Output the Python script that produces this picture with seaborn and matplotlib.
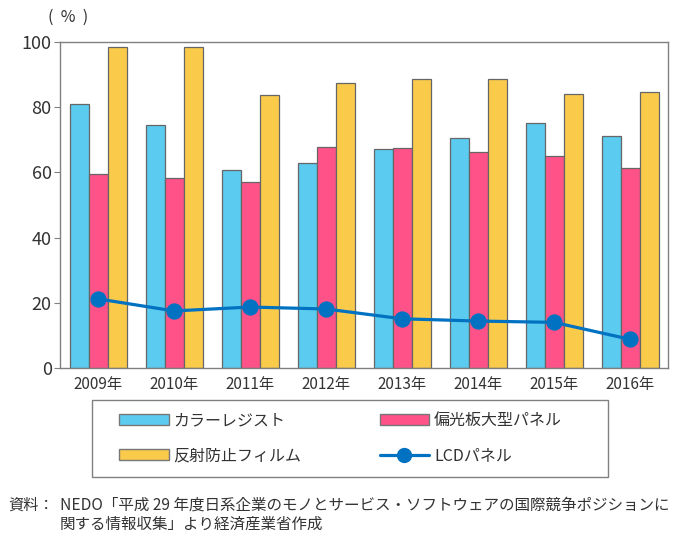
import pandas as pd
from matplotlib import pyplot as plt
from matplotlib.patches import Patch, Rectangle
from matplotlib.lines import Line2D
import seaborn as sns

years = ['2009年', '2010年', '2011年', '2012年', '2013年', '2014年', '2015年', '2016年']
color_resist = [81.0, 74.4, 60.8, 62.8, 67.2, 70.4, 75.2, 71.3]
polarizer = [59.5, 58.2, 57.1, 67.9, 67.5, 66.4, 65.0, 61.5]
ar_film = [98.6, 98.6, 83.8, 87.3, 88.5, 88.5, 84.0, 84.8]
lcd_panel = [21.2, 17.5, 18.7, 18.1, 15.1, 14.4, 14.0, 8.8]
series_names = ['カラーレジスト', '偏光板大型パネル', '反射防止フィルム']
line_name = 'LCDパネル'

colors = ['#5BCBF0', '#FF5288', '#FACA4B']
line_color = '#0072C1'
text_color = '#333333'
frame_color = '#808080'

sns.set_style('white')
plt.rcParams['font.family'] = ['Noto Sans CJK JP', 'DejaVu Sans']

# long table for the bars
rows = []
for name, vals in zip(series_names, [color_resist, polarizer, ar_film]):
    for y, v in zip(years, vals):
        rows.append({'year': y, 'series': name, 'value': v})
data = pd.DataFrame(rows)

fig = plt.figure(figsize=(6.94, 5.43), dpi=100)
ax = fig.add_axes([60 / 694, 1 - 368 / 543, 608 / 694, 326 / 543])

sns.barplot(data=data, x='year', y='value', hue='series', order=years,
            hue_order=series_names, palette=colors, saturation=1,
            width=0.75, gap=0, edgecolor='#666666', linewidth=0.9,
            legend=False, ax=ax)
sns.pointplot(x=years, y=lcd_panel, order=years, color=line_color,
              markers='o', markersize=10, linewidth=2.3, ax=ax, zorder=5)

ax.set_ylim(0, 100)
ax.set_xlim(-0.5, 7.5)
ax.set_yticks([0, 20, 40, 60, 80, 100])
ax.set_xlabel('')
ax.set_ylabel('')
for s in ax.spines.values():
    s.set_color(frame_color)
    s.set_linewidth(1.0)
ax.tick_params(axis='y', length=4, width=0.8, color=frame_color, pad=2,
               labelsize=13, labelcolor=text_color, left=True)
ax.tick_params(axis='x', length=0, pad=6, labelsize=11, labelcolor=text_color)

fig.text(68 / 694, 1 - 17 / 543, '(  %  )', fontsize=11.5, color=text_color,
         ha='center', va='center')

# legend frame drawn separately, legend itself frameless
fig.patches.append(Rectangle((92 / 694, 1 - 477 / 543), 516 / 694, 77 / 543,
                             transform=fig.transFigure, fill=False,
                             edgecolor=frame_color, linewidth=1.0))
handles = [Patch(facecolor=colors[0], edgecolor='#777777'),
           Patch(facecolor=colors[2], edgecolor='#777777'),
           Patch(facecolor=colors[1], edgecolor='#777777'),
           Line2D([], [], color=line_color, lw=2.3, marker='o', markersize=10)]
labels = [series_names[0], series_names[2], series_names[1], line_name]
fig.legend(handles, labels, ncol=2, loc='upper left',
           bbox_to_anchor=(119 / 694, 1 - 412 / 543),
           fontsize=11.5, handlelength=3.1, handleheight=0.7,
           borderpad=0, borderaxespad=0, labelspacing=1.15,
           handletextpad=0.3, columnspacing=4.9,
           frameon=False, labelcolor=text_color)

fig.text(8 / 694, 1 - 505 / 543, '資料：', fontsize=11, color=text_color, va='center')
fig.text(60 / 694, 1 - 505 / 543,
         'NEDO「平成 29 年度日系企業のモノとサービス・ソフトウェアの国際競争ポジションに',
         fontsize=11.2, color=text_color, va='center')
fig.text(60 / 694, 1 - 524 / 543, '関する情報収集」より経済産業省作成',
         fontsize=11.2, color=text_color, va='center')

fig.savefig('out.png', dpi=100)
